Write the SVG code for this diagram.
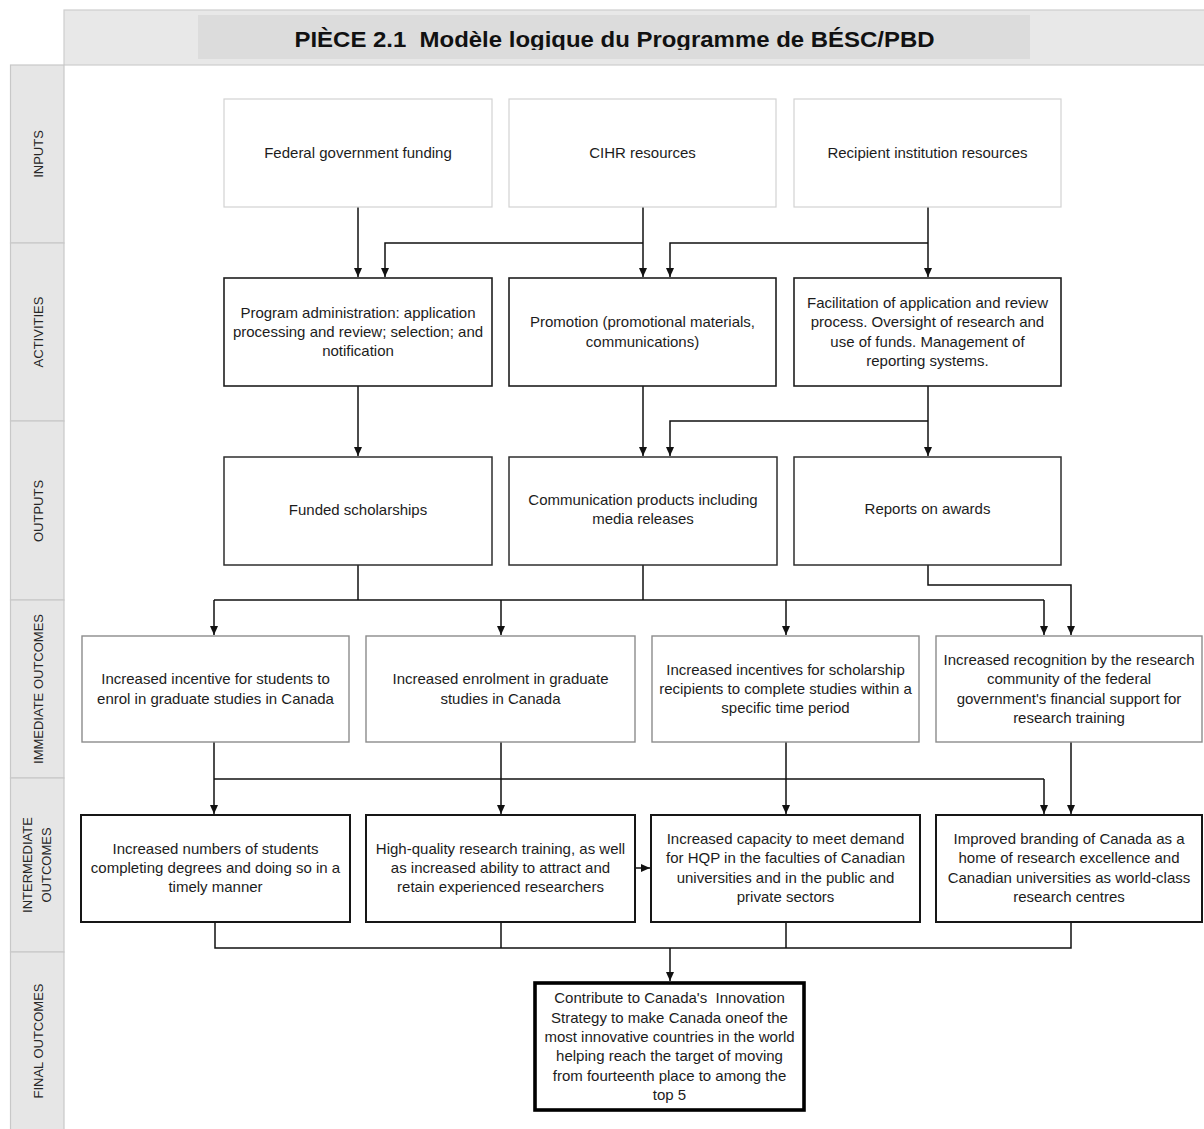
<svg xmlns="http://www.w3.org/2000/svg" width="1204" height="1129" viewBox="0 0 1204 1129">
  <defs>
    <marker id="arrow" markerUnits="userSpaceOnUse" markerWidth="10" markerHeight="10" refX="9" refY="4" orient="auto">
      <path d="M0,0 L9,4 L0,8 z" fill="#111"/>
    </marker>
    <clipPath id="titleClip">
      <rect x="198" y="15" width="832" height="35"/>
    </clipPath>
    <style>
      text { font-family: "Liberation Sans", Arial, sans-serif; }
      .band { fill: #e8e8e8; stroke: #cdcdcd; stroke-width: 1.2; }
      .panel { fill: #dcdcdc; }
      .title { font-size: 22px; font-weight: bold; fill: #111; text-anchor: middle; }
      .cell { fill: #e6e6e6; stroke: #c8c8c8; stroke-width: 1.2; }
      .lbl { font-size: 13px; fill: #262626; text-anchor: middle; }
      .box { fill: #fff; }
      .in { stroke: #d2d2d2; stroke-width: 1.2; }
      .act { stroke: #1e1e1e; stroke-width: 1.6; }
      .out { stroke: #2e2e2e; stroke-width: 1.5; }
      .imm { stroke: #8c8c8c; stroke-width: 1.4; }
      .mid { stroke: #161616; stroke-width: 2; }
      .fin { stroke: #000; stroke-width: 3.6; }
      .t { font-size: 15px; fill: #1c1c1c; text-anchor: middle; }
      .wire { fill: none; stroke: #111; stroke-width: 1.5; }
      .arr { marker-end: url(#arrow); }
    </style>
  </defs>

  <rect width="1204" height="1129" fill="#fff"/>

  <!-- title band -->
  <g id="header">
    <rect class="band" x="64" y="10" width="1145" height="55"/>
    <rect class="panel" x="198" y="15" width="832" height="44"/>
    <text class="title" x="614.5" y="46.5" textLength="640" lengthAdjust="spacingAndGlyphs" clip-path="url(#titleClip)" xml:space="preserve">PIÈCE 2.1  Modèle logique du Programme de BÉSC/PBD</text>
  </g>

  <!-- row labels -->
  <g id="row-labels">
    <rect class="cell" x="10.5" y="65" width="53.5" height="178"/>
    <rect class="cell" x="10.5" y="243" width="53.5" height="178"/>
    <rect class="cell" x="10.5" y="421" width="53.5" height="179"/>
    <rect class="cell" x="10.5" y="600" width="53.5" height="178"/>
    <rect class="cell" x="10.5" y="778" width="53.5" height="174"/>
    <rect class="cell" x="10.5" y="952" width="53.5" height="190"/>
    <text class="lbl" transform="translate(42.5,154) rotate(-90)">INPUTS</text>
    <text class="lbl" transform="translate(42.5,332) rotate(-90)">ACTIVITIES</text>
    <text class="lbl" transform="translate(42.5,511) rotate(-90)">OUTPUTS</text>
    <text class="lbl" transform="translate(42.5,689) rotate(-90)">IMMEDIATE OUTCOMES</text>
    <text class="lbl" transform="translate(31.7,865) rotate(-90)">INTERMEDIATE<tspan x="0" y="19.3">OUTCOMES</tspan></text>
    <text class="lbl" transform="translate(42.5,1041) rotate(-90)">FINAL OUTCOMES</text>
  </g>

  <!-- connectors -->
  <g id="connectors">
    <path class="wire arr" d="M358,207 V277"/>
    <path class="wire arr" d="M643,207 V277"/>
    <path class="wire arr" d="M643,243 H385 V277"/>
    <path class="wire arr" d="M928,207 V277"/>
    <path class="wire arr" d="M928,243 H670 V277"/>

    <path class="wire arr" d="M358,386 V456"/>
    <path class="wire arr" d="M643,386 V456"/>
    <path class="wire arr" d="M928,386 V456"/>
    <path class="wire arr" d="M928,421 H670 V456"/>

    <path class="wire" d="M358,565 V600"/>
    <path class="wire" d="M643,565 V600"/>
    <path class="wire" d="M214,600 H1044"/>
    <path class="wire arr" d="M214,600 V635"/>
    <path class="wire arr" d="M501,600 V635"/>
    <path class="wire arr" d="M786,600 V635"/>
    <path class="wire arr" d="M1044,600 V635"/>
    <path class="wire arr" d="M928,565 V585 H1071 V635"/>

    <path class="wire arr" d="M214,742 V814"/>
    <path class="wire arr" d="M501,742 V814"/>
    <path class="wire arr" d="M786,742 V814"/>
    <path class="wire arr" d="M1071,742 V814"/>
    <path class="wire" d="M214,779 H1044"/>
    <path class="wire arr" d="M1044,779 V814"/>

    <path class="wire arr" d="M635,868 H650"/>

    <path class="wire" d="M215,922 V948 H1071 V922"/>
    <path class="wire" d="M501,922 V948"/>
    <path class="wire" d="M786,922 V948"/>
    <path class="wire arr" d="M670,948 V981"/>
  </g>

  <!-- inputs -->
  <g id="input-federal">
    <rect class="box in" x="224" y="99" width="268" height="108"/>
    <text class="t" x="358" y="158">Federal government funding</text>
  </g>
  <g id="input-cihr">
    <rect class="box in" x="509" y="99" width="267" height="108"/>
    <text class="t" x="642.5" y="158">CIHR resources</text>
  </g>
  <g id="input-institution">
    <rect class="box in" x="794" y="99" width="267" height="108"/>
    <text class="t" x="927.5" y="158">Recipient institution resources</text>
  </g>

  <!-- activities -->
  <g id="activity-admin">
    <rect class="box act" x="224" y="278" width="268" height="108"/>
    <text class="t" x="358" y="317.7">Program administration: application<tspan x="358" y="337">processing and review; selection; and</tspan><tspan x="358" y="356.3">notification</tspan></text>
  </g>
  <g id="activity-promotion">
    <rect class="box act" x="509" y="278" width="267" height="108"/>
    <text class="t" x="642.5" y="327.4">Promotion (promotional materials,<tspan x="642.5" y="346.7">communications)</tspan></text>
  </g>
  <g id="activity-facilitation">
    <rect class="box act" x="794" y="278" width="267" height="108"/>
    <text class="t" x="927.5" y="308">Facilitation of application and review<tspan x="927.5" y="327.4">process. Oversight of research and</tspan><tspan x="927.5" y="346.7">use of funds. Management of</tspan><tspan x="927.5" y="366">reporting systems.</tspan></text>
  </g>

  <!-- outputs -->
  <g id="output-scholarships">
    <rect class="box out" x="224" y="457" width="268" height="108"/>
    <text class="t" x="358" y="515">Funded scholarships</text>
  </g>
  <g id="output-communication">
    <rect class="box out" x="509" y="457" width="268" height="108"/>
    <text class="t" x="643" y="505">Communication products including<tspan x="643" y="524.3">media releases</tspan></text>
  </g>
  <g id="output-reports">
    <rect class="box out" x="794" y="457" width="267" height="108"/>
    <text class="t" x="927.5" y="514">Reports on awards</text>
  </g>

  <!-- immediate outcomes -->
  <g id="immediate-incentive">
    <rect class="box imm" x="82" y="636" width="267" height="106"/>
    <text class="t" x="215.5" y="684.4">Increased incentive for students to<tspan x="215.5" y="703.7">enrol in graduate studies in Canada</tspan></text>
  </g>
  <g id="immediate-enrolment">
    <rect class="box imm" x="366" y="636" width="269" height="106"/>
    <text class="t" x="500.5" y="684.4">Increased enrolment in graduate<tspan x="500.5" y="703.7">studies in Canada</tspan></text>
  </g>
  <g id="immediate-completion">
    <rect class="box imm" x="652" y="636" width="267" height="106"/>
    <text class="t" x="785.5" y="674.7">Increased incentives for scholarship<tspan x="785.5" y="694">recipients to complete studies within a</tspan><tspan x="785.5" y="713.3">specific time period</tspan></text>
  </g>
  <g id="immediate-recognition">
    <rect class="box imm" x="936" y="636" width="266" height="106"/>
    <text class="t" x="1069" y="665">Increased recognition by the research<tspan x="1069" y="684.4">community of the federal</tspan><tspan x="1069" y="703.7">government's financial support for</tspan><tspan x="1069" y="723">research training</tspan></text>
  </g>

  <!-- intermediate outcomes -->
  <g id="intermediate-degrees">
    <rect class="box mid" x="81" y="815" width="269" height="107"/>
    <text class="t" x="215.5" y="853.7">Increased numbers of students<tspan x="215.5" y="873">completing degrees and doing so in a</tspan><tspan x="215.5" y="892.3">timely manner</tspan></text>
  </g>
  <g id="intermediate-training">
    <rect class="box mid" x="366" y="815" width="269" height="107"/>
    <text class="t" x="500.5" y="853.7">High-quality research training, as well<tspan x="500.5" y="873">as increased ability to attract and</tspan><tspan x="500.5" y="892.3">retain experienced researchers</tspan></text>
  </g>
  <g id="intermediate-capacity">
    <rect class="box mid" x="651" y="815" width="269" height="107"/>
    <text class="t" x="785.5" y="844">Increased capacity to meet demand<tspan x="785.5" y="863.4">for HQP in the faculties of Canadian</tspan><tspan x="785.5" y="882.7">universities and in the public and</tspan><tspan x="785.5" y="902">private sectors</tspan></text>
  </g>
  <g id="intermediate-branding">
    <rect class="box mid" x="936" y="815" width="266" height="107"/>
    <text class="t" x="1069" y="844">Improved branding of Canada as a<tspan x="1069" y="863.4">home of research excellence and</tspan><tspan x="1069" y="882.7">Canadian universities as world-class</tspan><tspan x="1069" y="902">research centres</tspan></text>
  </g>

  <!-- final outcome -->
  <g id="final-innovation">
    <rect class="box fin" x="535" y="983" width="269" height="127"/>
    <text class="t" x="669.5" y="1003.3" xml:space="preserve">Contribute to Canada's  Innovation<tspan x="669.5" y="1022.6">Strategy to make Canada oneof the</tspan><tspan x="669.5" y="1041.9">most innovative countries in the world</tspan><tspan x="669.5" y="1061.2">helping reach the target of moving</tspan><tspan x="669.5" y="1080.5">from fourteenth place to among the</tspan><tspan x="669.5" y="1099.8">top 5</tspan></text>
  </g>
</svg>
